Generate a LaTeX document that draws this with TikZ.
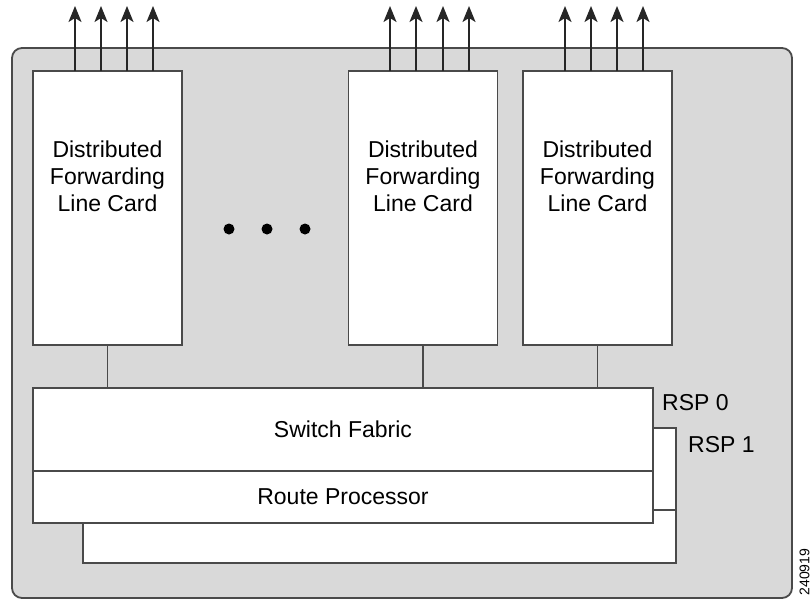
\documentclass[tikz,border=0pt]{standalone}
\usepackage{fontspec}
\setmainfont{Liberation Sans}
\usetikzlibrary{arrows.meta}
\definecolor{panel}{HTML}{D9D9D9}
\definecolor{edge}{HTML}{4A4A4A}
\begin{document}
\begin{tikzpicture}[x=1pt,y=-1pt,
  chassis/.style={draw=edge,fill=panel,line width=1.8pt,rounded corners=10pt,minimum width=780pt,minimum height=550pt,inner sep=0pt},
  card/.style={draw=edge,fill=white,line width=1.8pt,minimum width=149pt,minimum height=274pt,inner sep=0pt},
  cardtext/.style={align=center,font=\fontsize{23}{27}\selectfont,inner sep=0pt},
  box/.style={draw=edge,fill=white,line width=1.8pt,inner sep=0pt,font=\fontsize{23}{27}\selectfont},
  lbl/.style={inner sep=0pt,font=\fontsize{23}{27}\selectfont},
  link/.style={draw=edge,line width=1.8pt},
  outarrow/.style={draw=black!85,line width=1.8pt,-{Stealth[length=16pt,width=13pt,inset=4pt]}},
  dotmark/.style={circle,fill=black,inner sep=0pt,minimum size=11pt}
]
\clip (0,0) rectangle (812,603);
\node[chassis] (chassis) at (402,323) {};
% line cards
\node[card] (c1) at (107.5,208) {};
\node[card] (c2) at (423,208) {};
\node[card] (c3) at (597.5,208) {};
\node[cardtext] (t1) at (107.5,176) {Distributed\\Forwarding\\Line Card};
\node[cardtext] (t2) at (423,176) {Distributed\\Forwarding\\Line Card};
\node[cardtext] (t3) at (597.5,176) {Distributed\\Forwarding\\Line Card};
% dots
\node[dotmark] (d1) at (229,229) {};
\node[dotmark] (d2) at (267,229) {};
\node[dotmark] (d3) at (305,229) {};
% output arrows
\foreach \card/\xs in {c1/{75,101,127,153},c2/{390,416,443,469},c3/{565,591,617,643}}{
  \foreach \x [count=\i] in \xs {
    \coordinate (\card-top-\i) at (\x,71);
    \coordinate (\card-end-\i) at (\x,6);
    \draw[outarrow] (\card-top-\i) -- (\card-end-\i);
  }
}
% RSP 1 (behind)
\node[box,minimum width=593pt,minimum height=135pt] (rsp1) at (379.5,495.5) {};
\draw[link] (83,510) -- (676,510);
% RSP 0
\node[box,minimum width=620pt,minimum height=83pt] (sf) at (343,429.5) {Switch Fabric};
\node[box,minimum width=620pt,minimum height=52pt] (rp) at (343,497) {Route Processor};
% links from cards to fabric
\draw[link] (c1.south) -- (c1.south |- sf.north);
\draw[link] (c2.south) -- (c2.south |- sf.north);
\draw[link] (c3.south) -- (c3.south |- sf.north);
% labels
\node[lbl,anchor=base west] (r0) at (662,410) {RSP 0};
\node[lbl,anchor=base west] (r1) at (688,452) {RSP 1};
\node[rotate=90,inner sep=0pt,font=\fontsize{14}{14}\selectfont] (figid) at (804.5,572) {240919};
\end{tikzpicture}
\end{document}
